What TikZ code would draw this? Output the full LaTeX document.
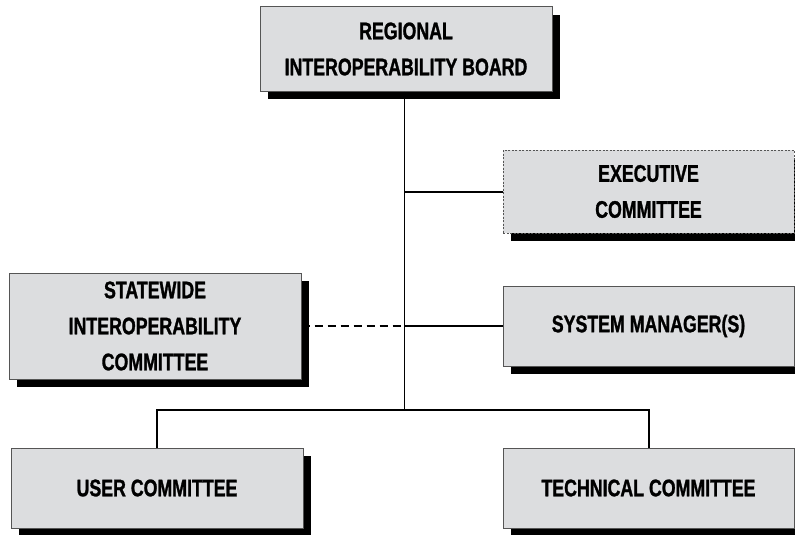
\documentclass[tikz,border=0pt]{standalone}
\usepackage{fontspec}
\setmainfont{Liberation Sans}[FakeStretch=0.74,FakeBold=1.2]
\usetikzlibrary{shadows}
\definecolor{boxfill}{HTML}{DCDDDF}
\definecolor{boxline}{HTML}{555555}
\tikzset{
  orgbox/.style={draw=boxline, line width=1pt, fill=boxfill, inner sep=0pt,
    minimum width=291pt, align=center,
    font=\fontsize{24}{36}\selectfont\bfseries,
    general shadow={fill=black, shadow xshift=8pt, shadow yshift=-8pt}},
  dashbox/.style={orgbox, dash pattern=on 2pt off 1.5pt},
  trunk/.style={line width=1pt, black},
  link/.style={line width=2pt, black},
  dlink/.style={line width=2pt, black, dash pattern=on 8pt off 5pt}
}
\begin{document}
\begin{tikzpicture}[x=1pt,y=-1pt]
\useasboundingbox (0,0) rectangle (795,535);
\clip (0,0) rectangle (795,535);
\node[orgbox, minimum width=292pt, minimum height=84pt] (rib) at (406,49) {REGIONAL\\INTEROPERABILITY BOARD};
\node[dashbox, minimum height=83pt] (exec) at (648.5,191.5) {EXECUTIVE\\COMMITTEE};
\node[orgbox, minimum width=292pt, minimum height=106pt] (sw) at (155,326) {STATEWIDE\\INTEROPERABILITY\\COMMITTEE};
\node[orgbox, minimum height=80pt] (sm) at (648.5,326) {SYSTEM MANAGER(S)};
\node[orgbox, minimum width=292pt, minimum height=80pt] (user) at (157,488) {USER COMMITTEE};
\node[orgbox, minimum height=80pt] (tech) at (648.5,488) {TECHNICAL COMMITTEE};
\coordinate (j) at (404,410);
\draw[trunk] (j |- rib.south) -- (j);
\draw[link] (exec.west) -- (exec.west -| j);
\draw[link] (sm.west) -- (sm.west -| j);
\draw[dlink] (sw.east) -- (sw.east -| j);
\draw[link] (user.north) |- (tech.north |- j) -- (tech.north);
\end{tikzpicture}
\end{document}
